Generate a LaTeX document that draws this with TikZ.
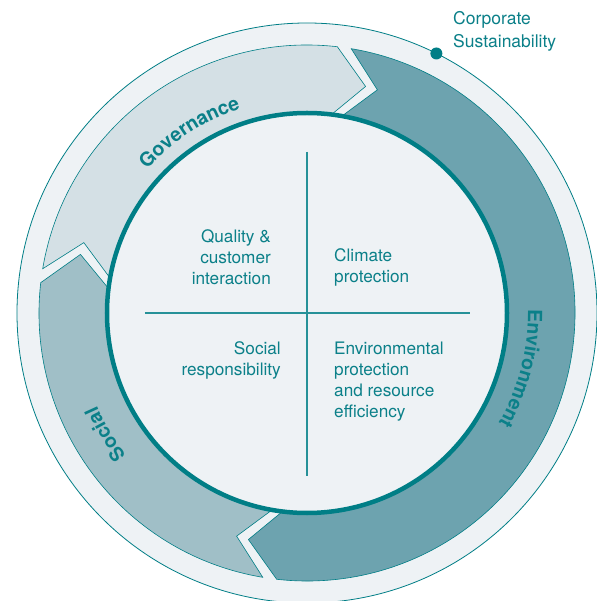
\documentclass[tikz,border=0pt]{standalone}
\usepackage{fontspec}
\setmainfont{TeX Gyre Heros}
\usepackage{tikz}
\usetikzlibrary{decorations.text}
\definecolor{bgpale}{HTML}{EEF2F5}
\definecolor{govfill}{HTML}{D4E0E5}
\definecolor{socfill}{HTML}{A0BFC7}
\definecolor{envfill}{HTML}{6DA3AF}
\definecolor{cteal}{HTML}{007E86}
\definecolor{ctext}{HTML}{0B8089}
\newcommand\bandfont{\fontsize{19.5}{22}\selectfont\bfseries\color{ctext}}
\newcommand\areafont{\fontsize{17.2}{21}\selectfont}
% one arrow of the ring: tail angle, head angle, fill
\newcommand\ringband[3]{%
  \pgfmathsetmacro\tailnotch{#1-8}%
  \pgfmathsetmacro\headtip{#2-8}%
  \draw[band,fill=#3] (#1:268) arc[start angle=#1,end angle=#2,radius=268]
    -- (\headtip:234) -- (#2:198) arc[start angle=#2,end angle=#1,radius=198]
    -- (\tailnotch:234) -- cycle;}
\tikzstyle{band}=[draw=cteal,line width=.6pt]
\tikzstyle{area}=[text=ctext,font=\areafont,inner sep=0pt]
\tikzstyle{bandlabel}=[decorate,decoration={text along path,text align=center}]

\begin{document}
\begin{tikzpicture}[x=1pt,y=1pt]
	\useasboundingbox (-307,-288) rectangle (289,313);
	\fill[white] (-307,-288) rectangle (289,313);
	\draw[cteal,line width=.8pt,fill=bgpale] (0,0) circle (290);
	% the three arrows, clockwise
	\ringband{170.5}{83.5}{govfill}
	\ringband{80.5}{-96.5}{envfill}
	\ringband{260.5}{173.5}{socfill}
	\path[bandlabel,decoration={text={|\bandfont|Governance}}]
		(148:215) arc[start angle=148,end angle=98,radius=215];
	\path[bandlabel,decoration={text={|\bandfont|Environment}}]
		(14:221) arc[start angle=14,end angle=-43,radius=221];
	\path[bandlabel,decoration={text={|\bandfont|Social}}]
		(238:230) arc[start angle=238,end angle=184,radius=230];
	% centre disc and its quadrants
	\draw[cteal,line width=4.5pt,fill=bgpale] (0,0) circle (200);
	\draw[cteal!85,line width=1.2pt] (0,161) -- (0,-163) (-162,0) -- (163,0);
	\node[area,anchor=east,align=right] (quality) at (-36,56) {Quality \&\\customer\\interaction};
	\node[area,anchor=west,align=left] (climate) at (27,45.5) {Climate\\protection};
	\node[area,anchor=east,align=right] (social) at (-26,-47.5) {Social\\responsibility};
	\node[area,anchor=west,align=left] (envprot) at (27,-68.5) {Environmental\\protection\\and resource\\efficiency};
	% marker on the outer ring
	\node[circle,fill=cteal,inner sep=0pt,minimum size=12pt] (dot) at (63.5:290) {};
	\node[area,anchor=west,align=left,font=\fontsize{17.5}{23}\selectfont] (corporate) at (146,281.5) {Corporate\\Sustainability};
\end{tikzpicture}
\end{document}
